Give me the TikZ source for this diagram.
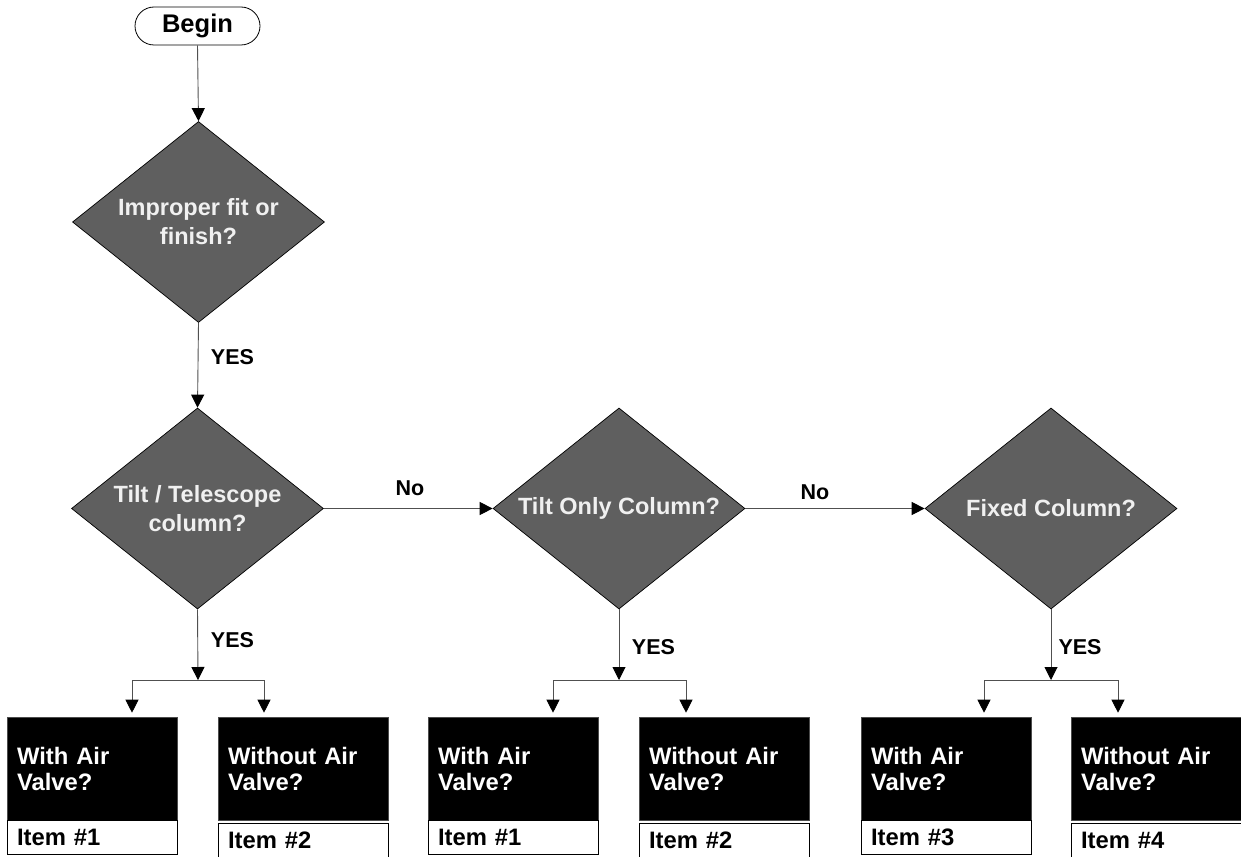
\documentclass[tikz,border=0pt]{standalone}
\usepackage{fontspec}
\setmainfont{Liberation Sans}
\usetikzlibrary{shapes.geometric,arrows.meta}
\definecolor{dgray}{HTML}{5F5F5F}
\definecolor{lgray}{HTML}{505050}
\begin{document}
\begin{tikzpicture}[x=1pt,y=-1pt,
  line/.style={draw=lgray, line width=0.9pt},
  conn/.style={line, -{Triangle[width=13pt,length=13pt,color=black]}},
  dec/.style={diamond, draw=black, line width=0.7pt, fill=dgray, text=white!94!black,
    font=\bfseries\fontsize{23.5}{29}\selectfont, align=center, inner sep=0pt,
    aspect=1.25, minimum width=252pt, minimum height=201pt},
  qbox/.style={rectangle, fill=black, draw=black!70, line width=0.6pt, text=white,
    font=\bfseries\fontsize{23.8}{26}\selectfont, minimum width=170pt, minimum height=103pt,
    text width=150pt, inner xsep=10pt, align=left},
  ibox/.style={rectangle, draw=black, line width=0.9pt, fill=white,
    font=\bfseries\fontsize{23.8}{26}\selectfont, minimum width=170pt, minimum height=34pt,
    text width=150pt, inner xsep=10pt, inner ysep=0pt, align=left},
  lbl/.style={font=\bfseries\fontsize{21.5}{24}\selectfont, inner sep=0pt},
  startbox/.style={rectangle, rounded corners=19pt, draw=black, line width=0.8pt,
    minimum width=125pt, minimum height=38pt, font=\bfseries\fontsize{25.5}{28}\selectfont}
]
\useasboundingbox (0,0) rectangle (1241,856);

% nodes
\node[startbox] (begin) at (197.5,26) {Begin};
\node[dec] (d1) at (198.5,222) {Improper fit or\\finish?};
\node[dec] (d2) at (197.5,508.5) {Tilt / Telescope\\column?};
\node[dec] (d3) at (619,508.5) {Tilt Only Column?};
\node[dec] (d4) at (1051,508.5) {Fixed Column?};

\node[qbox] (q1) at (92,768.5) {With Air\\Valve?};
\node[qbox] (q2) at (303,768.5) {Without Air\\Valve?};
\node[qbox] (q3) at (513,768.5) {With Air\\Valve?};
\node[qbox] (q4) at (724,768.5) {Without Air\\Valve?};
\node[qbox] (q5) at (946,768.5) {With Air\\Valve?};
\node[qbox] (q6) at (1156,768.5) {Without Air\\Valve?};

\node[ibox] (i1) at (92,837) {Item \#1};
\node[ibox] (i2) at (303,840) {Item \#2};
\node[ibox] (i3) at (513,837) {Item \#1};
\node[ibox] (i4) at (724,840) {Item \#2};
\node[ibox] (i5) at (946,837) {Item \#3};
\node[ibox] (i6) at (1156,840) {Item \#4};

% labels
\node[lbl] (y1) at (232.5,357) {YES};
\node[lbl] (y2) at (232.5,640) {YES};
\node[lbl] (y3) at (653.5,647) {YES};
\node[lbl] (y4) at (1080,647) {YES};
\node[lbl] (n1) at (410,488) {No};
\node[lbl] (n2) at (815,492) {No};

% branch coordinates
\coordinate (b1) at (198,680);
\coordinate (b1l) at (132,680);
\coordinate (b1r) at (264,680);
\coordinate (b2) at (619,680);
\coordinate (b2l) at (553,680);
\coordinate (b2r) at (686,680);
\coordinate (b3) at (1051,680);
\coordinate (b3l) at (984,680);
\coordinate (b3r) at (1118,680);

% connectors
\draw[conn] (begin.south) -- (d1.north);
\draw[conn] (d1.south) -- (d2.north);
\draw[conn] (d2.east) -- (d3.west);
\draw[conn] (d3.east) -- (d4.west);

\draw[conn] (d2.south) -- (b1);
\draw[conn] (d3.south) -- (b2);
\draw[conn] (d4.south) -- (b3);

\draw[line] (b1l) -- (b1r);
\draw[line] (b2l) -- (b2r);
\draw[line] (b3l) -- (b3r);

\draw[conn, shorten >=4pt] (b1l) -- (b1l |- q1.north);
\draw[conn, shorten >=4pt] (b1r) -- (b1r |- q2.north);
\draw[conn, shorten >=4pt] (b2l) -- (b2l |- q3.north);
\draw[conn, shorten >=4pt] (b2r) -- (b2r |- q4.north);
\draw[conn, shorten >=4pt] (b3l) -- (b3l |- q5.north);
\draw[conn, shorten >=4pt] (b3r) -- (b3r |- q6.north);
\end{tikzpicture}
\end{document}
